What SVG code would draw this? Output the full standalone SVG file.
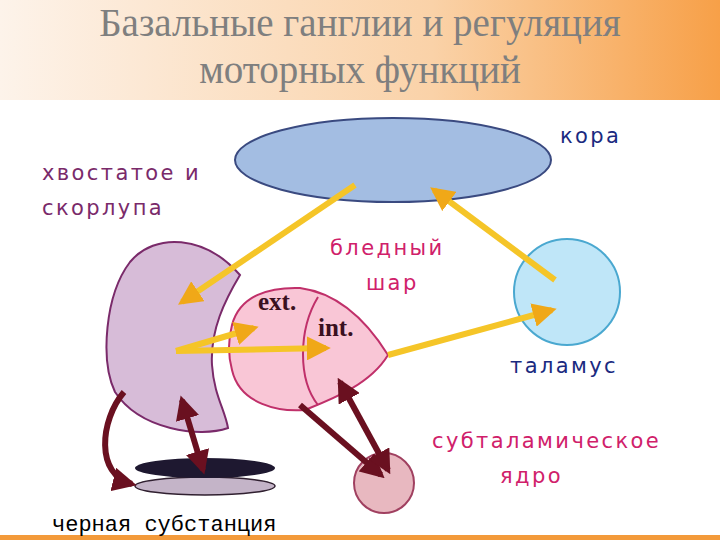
<svg xmlns="http://www.w3.org/2000/svg" width="720" height="540" viewBox="0 0 720 540">
<defs>
<linearGradient id="hd" x1="0" y1="0" x2="1" y2="0"><stop offset="0" stop-color="#fdf3ea"/><stop offset="0.6" stop-color="#fad2a8"/><stop offset="1" stop-color="#f7a048"/></linearGradient>
<marker id="ya" viewBox="0 0 10 10" refX="8" refY="5" markerWidth="4" markerHeight="4" orient="auto-start-reverse"><path d="M0,0L10,5L0,10z" fill="#f0a818"/></marker>
<marker id="ra" viewBox="0 0 10 10" refX="8" refY="5" markerWidth="4" markerHeight="4" orient="auto-start-reverse"><path d="M0,0L10,5L0,10z" fill="#6a1020"/></marker>
<style>
.t{font-family:"DejaVu Sans",sans-serif;font-size:21px;letter-spacing:2.4px}
.y{stroke:#f5c528;stroke-width:6;fill:none;marker-end:url(#ya)}
.r{stroke:#6a1020;stroke-width:6;fill:none;marker-end:url(#ra)}
.e{font-family:"Liberation Serif",serif;font-size:25px;font-weight:bold;fill:#3a1020}
</style>
</defs>
<rect width="720" height="100" fill="url(#hd)"/>
<rect y="100" width="720" height="440" fill="#fff"/>
<rect y="535" width="720" height="5" fill="#f39a3a"/>
<g font-family="Liberation Serif,serif" font-size="39" fill="#7f7f7f" text-anchor="middle">
<text x="360" y="36">Базальные ганглии и регуляция</text>
<text x="360" y="83">моторных функций</text>
</g>
<g id="cortex"><ellipse cx="393" cy="160" rx="158" ry="42" fill="#a3bde2" stroke="#3a4a80" stroke-width="2"/><text class="t" x="560" y="143" fill="#1a2a80">кора</text></g>
<g id="thalamus"><circle cx="567" cy="292" r="53" fill="#bfe6f8" stroke="#4aa8d0" stroke-width="2"/><text class="t" x="510" y="373" fill="#1a2a80">таламус</text></g>
<g id="striatum"><path d="M130,262 C155,232 205,235 240,275 C225,300 210,330 212,365 C214,395 225,410 228,428 C200,438 140,430 115,392 C100,360 105,295 130,262Z" fill="#d7bcd8" stroke="#7a2a6a" stroke-width="2"/>
<text class="t" x="42" y="180" fill="#7a2a6a">хвостатое и</text><text class="t" x="42" y="215" fill="#7a2a6a">скорлупа</text></g>
<g id="pallidus"><path d="M232,325 C240,295 270,287 300,288 C330,292 360,310 388,355 C370,385 330,400 305,410 C280,412 240,405 232,370 C228,355 228,340 232,325Z" fill="#f9c6d6" stroke="#c0306a" stroke-width="2"/>
<path d="M318,297 C298,330 298,380 318,405" fill="none" stroke="#c0306a" stroke-width="2"/>
<text class="e" x="258" y="310">ext.</text><text class="e" x="318" y="336">int.</text>
<text class="t" x="330" y="255" fill="#d0206a">бледный</text><text class="t" x="366" y="290" fill="#d0206a">шар</text></g>
<g id="nigra"><ellipse cx="205" cy="486" rx="70" ry="9" fill="#c4b4c8" stroke="#302030" stroke-width="1.5"/><ellipse cx="205" cy="468" rx="70" ry="10" fill="#1e1830"/>
<text x="52" y="531" font-family="Liberation Mono,monospace" font-size="22" fill="#000">черная субстанция</text></g>
<g id="stn"><circle cx="384" cy="483" r="30" fill="#e8b8c0" stroke="#a04060" stroke-width="2"/>
<text class="t" x="432" y="448" fill="#d0206a">субталамическое</text><text class="t" x="500" y="483" fill="#d0206a">ядро</text></g>
<g id="connectors">
<path class="y" d="M355,185L182,302"/>
<path class="y" d="M555,280L434,190"/>
<path class="y" d="M388,355L552,310"/>
<path class="y" d="M176,351L254,328"/>
<path class="y" d="M176,351L326,348"/>
<path class="r" d="M124,392C100,420 95,475 132,484"/>
<path class="r" d="M182,400L203,470" style="marker-start:url(#ra)"/>
<path class="r" d="M300,405L381,475"/>
<path class="r" d="M340,382L388,470" style="marker-start:url(#ra)"/>
</g>
</svg>
